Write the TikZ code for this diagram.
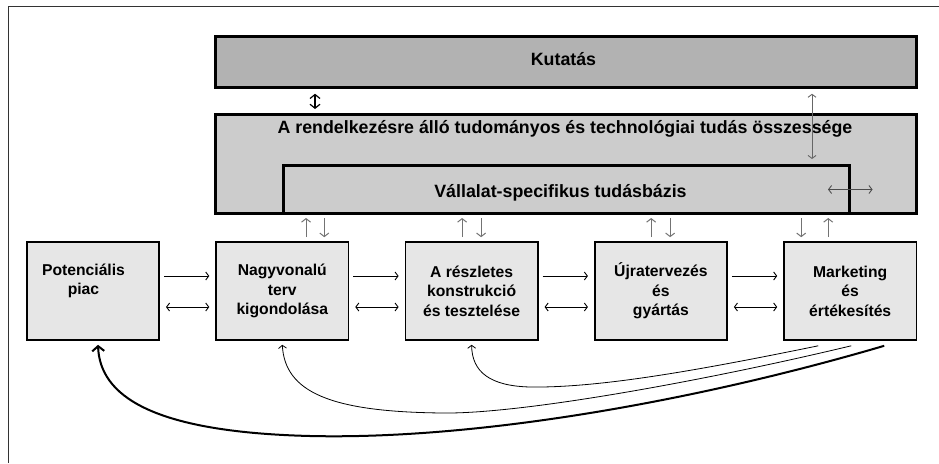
\documentclass[tikz,border=0pt]{standalone}
\usepackage{fontspec}
\setmainfont{Liberation Sans}
\usetikzlibrary{arrows.meta,positioning}
\definecolor{kutfill}{RGB}{178,178,178}
\definecolor{tudfill}{RGB}{204,204,204}
\definecolor{boxfill}{RGB}{230,230,230}

\begin{document}
\begin{tikzpicture}[
  x=1pt, y=-1pt,
  font=\fontsize{15.7}{19.5}\selectfont\bfseries,
  kb/.style={draw, line width=3pt, inner sep=0pt},
  big/.style={anchor=base, inner sep=0pt, font=\fontsize{17.8}{20}\selectfont\bfseries},
  pb/.style={draw, line width=1.6pt, fill=boxfill, align=center, inner sep=0pt,
    minimum width=132.4pt, minimum height=98pt},
  arr/.style={-{Straight Barb[length=3pt,width=8pt]}, line width=0.9pt},
  darr/.style={{Straight Barb[length=3pt,width=8pt]}-{Straight Barb[length=3pt,width=8pt]}, line width=0.9pt},
  varr/.style={-{Straight Barb[length=3.5pt,width=9pt]}, line width=1pt, draw=black!55},
  fb/.style={-{Straight Barb[length=3pt,width=8pt]}, line width=0.8pt},
  fbt/.style={-{Straight Barb[length=5pt,width=12pt]}, line width=2pt}
]
\useasboundingbox (0,0) rectangle (939,463);
\draw[black!80, line width=1pt] (8,463) -- (8,6) -- (939,6);

% knowledge boxes
\node[kb, fill=kutfill, minimum width=701pt, minimum height=50.5pt] (kut) at (565.5,62) {};
\node[big] (kutt) at (563.5,65.7) {Kutatás};
\node[kb, fill=tudfill, minimum width=701pt, minimum height=99pt] (tud) at (565.5,164) {};
\node[big] (tudt) at (565,133.3)
  {A rendelkezésre álló tudományos és technológiai tudás összessége};
\node[kb, fill=tudfill, minimum width=566pt, minimum height=48pt] (vall) at (566.5,189.5) {};
\node[big] (vallt) at (560.5,197.7) {Vállalat-specifikus tudásbázis};

% chain of steps
\node[pb] (p1) at (93,291) {};
\node[align=center, inner sep=0pt] (p1t) at (83.5,281) {Potenciális\\piac};
\node[pb, right=55.3pt of p1] (p2) {Nagyvonalú\\terv\\kigondolása};
\node[pb, right=55.3pt of p2] (p3) {A részletes\\konstrukció\\és tesztelése};
\node[pb, right=55.3pt of p3] (p4) {Újratervezés\\és\\gyártás};
\node[pb, right=55.3pt of p4] (p5) {Marketing\\és\\értékesítés};

\foreach \a/\b in {p1/p2, p2/p3, p3/p4, p4/p5} {
  \draw[arr, shorten <=4pt, shorten >=6pt] ([yshift=15pt]\a.east) -- ([yshift=15pt]\b.west);
  \draw[darr, shorten <=6pt, shorten >=6pt] ([yshift=-16pt]\a.east) -- ([yshift=-16pt]\b.west);
}

% links to the knowledge base
\foreach \b/\dx in {p2/23.75, p3/-9.5, p4/-9.75, p5/-22}
  \draw[varr, shorten <=4pt, shorten >=3pt] ([xshift=\dx pt]\b.north) -- ([xshift=\dx pt]\b.north |- tud.south);
\foreach \b/\dx in {p2/42, p3/9.5, p4/9.25, p5/-49}
  \draw[varr, shorten <=3pt, shorten >=4pt] ([xshift=\dx pt]\b.north |- tud.south) -- ([xshift=\dx pt]\b.north);

\draw[{Straight Barb[length=4pt,width=10pt]}-{Straight Barb[length=4pt,width=10pt]}, line width=1.2pt,
  shorten <=5pt, shorten >=4pt]
  ([xshift=-250.5pt]kut.south) -- ([xshift=-250.5pt]kut.south |- tud.north);
\draw[darr, draw=black!60, shorten <=5pt, shorten >=5pt]
  ([xshift=246.5pt]kut.south) -- ([xshift=246.5pt]kut.south |- vall.north);
\draw[darr, draw=black!70] ([xshift=-23pt]vall.east) -- ([xshift=-45pt]vall.east -| tud.east);

% feedback from the market
\draw[fb] ([xshift=-32pt,yshift=-5pt]p5.south) .. controls (700,370) and (600,388) .. (530,387)
  .. controls (490,386) and (472,372) .. ([yshift=-4pt]p3.south);
\draw[fb] ([xshift=1pt,yshift=-5pt]p5.south) .. controls (700,382) and (520,414) .. (443,413)
  .. controls (330,412) and (285,392) .. ([yshift=-4pt]p2.south);
\draw[fbt] ([xshift=34pt,yshift=-5pt]p5.south) .. controls (700,400) and (480,440) .. (310,436)
  .. controls (150,432) and (100,395) .. ([xshift=5pt,yshift=-4pt]p1.south);
\end{tikzpicture}
\end{document}
